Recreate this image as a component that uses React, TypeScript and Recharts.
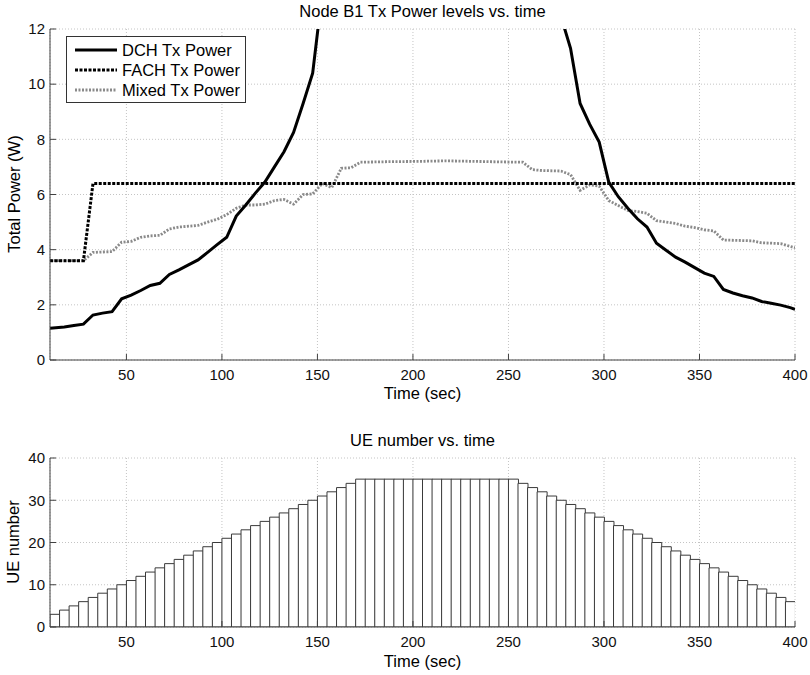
import React from "react";
import { ComposedChart, Line, Bar, XAxis, YAxis, CartesianGrid, Legend } from "recharts";

const FONT = '"Liberation Sans", Arial, Helvetica, sans-serif';

// axis ticks
const timeTicks = [50, 100, 150, 200, 250, 300, 350, 400];
const powerTicks = [0, 2, 4, 6, 8, 10, 12];
const ueTicks = [0, 10, 20, 30, 40];

const seriesNames = ["DCH Tx Power", "FACH Tx Power", "Mixed Tx Power"];

// DCH Tx power (W); runs off the top of the axes between ~150 and ~280 s
const dchTime = [10, 17.5, 22.5, 27.5, 32.5, 37.5, 42.5, 47.5, 52.5, 57.5, 62.5, 67.5, 72.5, 77.5, 82.5, 87.5, 92.5, 97.5, 102.5, 107.5, 112.5, 117.5, 122.5, 127.5, 132.5, 137.5, 142.5, 147.5, 152.5, 157.5, 165, 180, 215, 250, 265, 272.5, 277.5, 282.5, 287.5, 292.5, 297.5, 302.5, 307.5, 312.5, 317.5, 322.5, 327.5, 332.5, 337.5, 342.5, 347.5, 352.5, 357.5, 362.5, 367.5, 372.5, 377.5, 382.5, 387.5, 392.5, 397.5, 400];
const dchPower = [1.15, 1.2, 1.25, 1.3, 1.63, 1.7, 1.75, 2.22, 2.35, 2.52, 2.7, 2.78, 3.1, 3.27, 3.45, 3.63, 3.9, 4.18, 4.45, 5.22, 5.62, 6.05, 6.45, 7.0, 7.55, 8.25, 9.3, 10.4, 13.3, 17, 22, 28, 32, 28, 20, 16, 12.45, 11.3, 9.3, 8.55, 7.9, 6.45, 5.92, 5.5, 5.12, 4.82, 4.23, 3.98, 3.73, 3.55, 3.35, 3.15, 3.03, 2.56, 2.43, 2.33, 2.25, 2.12, 2.06, 1.99, 1.9, 1.84];

// FACH Tx power (W)
const fachTime = [10, 27.5, 32.5, 400];
const fachPower = [3.6, 3.6, 6.4, 6.4];

// Mixed Tx power (W)
const mixedTime = [10, 27.5, 32.5, 42.5, 47.5, 52.5, 57.5, 62.5, 67.5, 72.5, 77.5, 82.5, 87.5, 92.5, 97.5, 102.5, 107.5, 112.5, 117.5, 122.5, 127.5, 132.5, 137.5, 142.5, 147.5, 152.5, 157.5, 162.5, 167.5, 172.5, 187.5, 202.5, 217.5, 232.5, 247.5, 257.5, 262.5, 267.5, 277.5, 282.5, 287.5, 292.5, 297.5, 302.5, 307.5, 312.5, 317.5, 322.5, 327.5, 332.5, 337.5, 342.5, 347.5, 352.5, 357.5, 362.5, 372.5, 377.5, 382.5, 392.5, 397.5, 400];
const mixedPower = [3.6, 3.6, 3.9, 3.93, 4.27, 4.3, 4.45, 4.5, 4.52, 4.75, 4.82, 4.85, 4.88, 5.0, 5.1, 5.27, 5.5, 5.62, 5.62, 5.65, 5.78, 5.82, 5.65, 6.0, 6.02, 6.4, 6.25, 6.95, 6.97, 7.17, 7.19, 7.2, 7.22, 7.2, 7.18, 7.17, 6.9, 6.87, 6.85, 6.72, 6.15, 6.35, 6.3, 5.78, 5.6, 5.42, 5.38, 5.32, 5.05, 5.0, 4.95, 4.85, 4.8, 4.72, 4.68, 4.35, 4.33, 4.32, 4.25, 4.22, 4.12, 4.07];

// UE count per 5 s bin (bin centres)
const ueTime = [12.5, 17.5, 22.5, 27.5, 32.5, 37.5, 42.5, 47.5, 52.5, 57.5, 62.5, 67.5, 72.5, 77.5, 82.5, 87.5, 92.5, 97.5, 102.5, 107.5, 112.5, 117.5, 122.5, 127.5, 132.5, 137.5, 142.5, 147.5, 152.5, 157.5, 162.5, 167.5, 172.5, 177.5, 182.5, 187.5, 192.5, 197.5, 202.5, 207.5, 212.5, 217.5, 222.5, 227.5, 232.5, 237.5, 242.5, 247.5, 252.5, 257.5, 262.5, 267.5, 272.5, 277.5, 282.5, 287.5, 292.5, 297.5, 302.5, 307.5, 312.5, 317.5, 322.5, 327.5, 332.5, 337.5, 342.5, 347.5, 352.5, 357.5, 362.5, 367.5, 372.5, 377.5, 382.5, 387.5, 392.5, 397.5];
const ueCount = [3, 4, 5, 6, 7, 8, 9, 10, 11, 12, 13, 14, 15, 16, 17, 18, 19, 20, 21, 22, 23, 24, 25, 26, 27, 28, 29, 30, 31, 32, 33, 34, 35, 35, 35, 35, 35, 35, 35, 35, 35, 35, 35, 35, 35, 35, 35, 35, 35, 34, 33, 32, 31, 30, 29, 28, 27, 26, 25, 24, 23, 22, 21, 20, 19, 18, 17, 16, 15, 14, 13, 12, 11, 10, 9, 8, 7, 6];

const toPoints = (ts: number[], vs: number[]) => ts.map((t, i) => ({ t, v: vs[i] }));
const dchData = toPoints(dchTime, dchPower);
const fachData = toPoints(fachTime, fachPower);
const mixedData = toPoints(mixedTime, mixedPower);
const ueData = ueTime.map((t, i) => ({ t, n: ueCount[i] }));

const AXIS_COLOR = "#404040";
const GRID = { stroke: "#c4c4c4", strokeDasharray: "1 2" };
const TICK = { fill: "#111", fontSize: 15, fontFamily: FONT };
const noLabel = () => "";

const lineStyles = [
  { stroke: "#000", strokeWidth: 3, dash: undefined as string | undefined },
  { stroke: "#000", strokeWidth: 3, dash: "3 1.5" },
  { stroke: "#8a8a8a", strokeWidth: 2.8, dash: "2 1.5" },
];

function LegendBox() {
  return (
    <div
      style={{
        border: "1px solid #333",
        background: "#fff",
        padding: "3px 5px 2px 8px",
        fontFamily: FONT,
        fontSize: 16.5,
        color: "#000",
      }}
    >
      {seriesNames.map((name, i) => (
        <div key={name} style={{ display: "flex", alignItems: "center", height: 20 }}>
          <svg width={42} height={6}>
            <line
              x1={0}
              y1={3}
              x2={42}
              y2={3}
              stroke={lineStyles[i].stroke}
              strokeWidth={lineStyles[i].strokeWidth}
              strokeDasharray={lineStyles[i].dash}
            />
          </svg>
          <span style={{ marginLeft: 5, whiteSpace: "nowrap" }}>{name}</span>
        </div>
      ))}
    </div>
  );
}

const textStyle: React.CSSProperties = {
  position: "absolute",
  fontFamily: FONT,
  fontSize: 16.5,
  lineHeight: "20px",
  height: 20,
  color: "#000",
  textAlign: "center",
  whiteSpace: "nowrap",
};

function YLabel({ text, cx, cy }: { text: string; cx: number; cy: number }) {
  return (
    <div style={{ ...textStyle, width: 300, left: cx - 150, top: cy - 10, transform: "rotate(-90deg)" }}>
      {text}
    </div>
  );
}

export default function App() {
  return (
    <div style={{ position: "absolute", left: 0, top: 0, width: 810, height: 675, background: "#fff" }}>
      <div style={{ ...textStyle, left: 50, width: 745, top: 1 }}>Node B1 Tx Power levels vs. time</div>
      <div style={{ ...textStyle, left: 50, width: 745, top: 383 }}>Time (sec)</div>
      <YLabel text="Total Power (W)" cx={14} cy={194} />

      <div style={{ position: "absolute", left: 0, top: 0 }}>
        <ComposedChart width={810} height={400} margin={{ top: 29, right: 15, bottom: 0, left: 0 }}>
          <CartesianGrid {...GRID} />
          <XAxis
            type="number"
            dataKey="t"
            domain={[10, 400]}
            allowDataOverflow
            ticks={timeTicks}
            height={40}
            tickSize={-6}
            tickMargin={15}
            tick={TICK}
            stroke={AXIS_COLOR}
          />
          <XAxis
            xAxisId="top"
            orientation="top"
            type="number"
            dataKey="t"
            domain={[10, 400]}
            allowDataOverflow
            ticks={timeTicks}
            height={0}
            tickSize={-6}
            tickFormatter={noLabel}
            stroke={AXIS_COLOR}
          />
          <YAxis
            type="number"
            domain={[0, 12]}
            allowDataOverflow
            ticks={powerTicks}
            width={50}
            tickSize={-6}
            tickMargin={11}
            tick={TICK}
            stroke={AXIS_COLOR}
          />
          <YAxis
            yAxisId="right"
            orientation="right"
            type="number"
            domain={[0, 12]}
            allowDataOverflow
            ticks={powerTicks}
            width={0}
            tickSize={-6}
            tickFormatter={noLabel}
            stroke={AXIS_COLOR}
          />
          <Line
            data={mixedData}
            dataKey="v"
            name={seriesNames[2]}
            stroke={lineStyles[2].stroke}
            strokeWidth={lineStyles[2].strokeWidth}
            strokeDasharray={lineStyles[2].dash}
            dot={false}
            type="linear"
            isAnimationActive={false}
          />
          <Line
            data={fachData}
            dataKey="v"
            name={seriesNames[1]}
            stroke={lineStyles[1].stroke}
            strokeWidth={lineStyles[1].strokeWidth}
            strokeDasharray={lineStyles[1].dash}
            dot={false}
            type="linear"
            isAnimationActive={false}
          />
          <Line
            data={dchData}
            dataKey="v"
            name={seriesNames[0]}
            stroke={lineStyles[0].stroke}
            strokeWidth={lineStyles[0].strokeWidth}
            dot={false}
            type="linear"
            isAnimationActive={false}
          />
          <Legend
            layout="vertical"
            align="center"
            verticalAlign="middle"
            content={() => <LegendBox />}
            wrapperStyle={{ position: "absolute", left: 66, top: 36, width: "auto", height: "auto" }}
          />
        </ComposedChart>
      </div>

      <div style={{ ...textStyle, left: 50, width: 745, top: 430 }}>UE number vs. time</div>
      <div style={{ ...textStyle, left: 50, width: 745, top: 651 }}>Time (sec)</div>
      <YLabel text="UE number" cx={13} cy={542} />

      <div style={{ position: "absolute", left: 0, top: 420 }}>
        <ComposedChart
          width={810}
          height={255}
          data={ueData}
          margin={{ top: 38, right: 15, bottom: 0, left: 0 }}
          barCategoryGap={0}
          barGap={0}
        >
          <CartesianGrid {...GRID} />
          <XAxis
            type="number"
            dataKey="t"
            domain={[10, 400]}
            allowDataOverflow
            ticks={timeTicks}
            height={48}
            tickSize={-6}
            tickMargin={15}
            tick={TICK}
            stroke={AXIS_COLOR}
          />
          <XAxis
            xAxisId="top"
            orientation="top"
            type="number"
            dataKey="t"
            domain={[10, 400]}
            allowDataOverflow
            ticks={timeTicks}
            height={0}
            tickSize={-6}
            tickFormatter={noLabel}
            stroke={AXIS_COLOR}
          />
          <YAxis
            type="number"
            domain={[0, 40]}
            allowDataOverflow
            ticks={ueTicks}
            width={50}
            tickSize={-6}
            tickMargin={11}
            tick={TICK}
            stroke={AXIS_COLOR}
          />
          <YAxis
            yAxisId="right"
            orientation="right"
            type="number"
            domain={[0, 40]}
            allowDataOverflow
            ticks={ueTicks}
            width={0}
            tickSize={-6}
            tickFormatter={noLabel}
            stroke={AXIS_COLOR}
          />
          <Bar dataKey="n" fill="#fff" stroke="#3a3a3a" strokeWidth={1} isAnimationActive={false} />
        </ComposedChart>
      </div>
    </div>
  );
}
